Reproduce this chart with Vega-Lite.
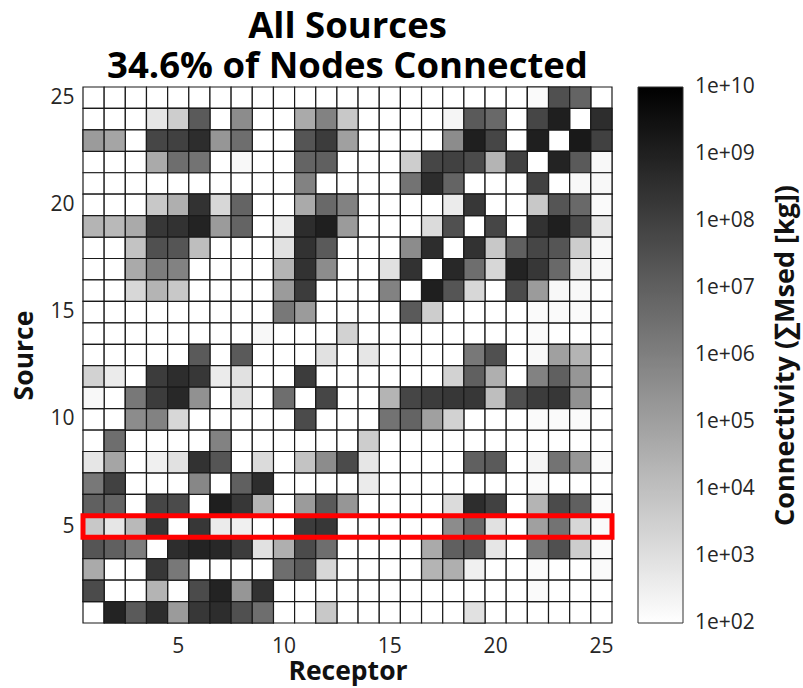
{
  "$schema": "https://vega.github.io/schema/vega-lite/v6.json",
  "width": 529,
  "height": 536,
  "autosize": {"type": "none"},
  "padding": {"left": 83, "top": 87, "right": 191, "bottom": 65},
  "background": "white",
  "title": {
    "text": ["All Sources", "34.6% of Nodes Connected"],
    "font": "Open Sans",
    "fontSize": 36.5,
    "fontWeight": "bold",
    "color": "black",
    "anchor": "middle",
    "offset": 1,
    "lineHeight": 40
  },
  "config": {
    "view": {"stroke": null},
    "axis": {
      "labelFont": "Open Sans",
      "labelFontSize": 21,
      "labelColor": "#262626",
      "titleFont": "Open Sans",
      "titleFontSize": 26.5,
      "titleFontWeight": "bold",
      "titleColor": "#111111",
      "ticks": false,
      "domain": false,
      "grid": false
    }
  },
  "data": {
    "values": [
      {"rec":1,"src":25,"kg":0},{"rec":2,"src":25,"kg":0},{"rec":3,"src":25,"kg":0},{"rec":4,"src":25,"kg":0},{"rec":5,"src":25,"kg":0},{"rec":6,"src":25,"kg":0},{"rec":7,"src":25,"kg":0},{"rec":8,"src":25,"kg":0},{"rec":9,"src":25,"kg":0},{"rec":10,"src":25,"kg":0},{"rec":11,"src":25,"kg":0},{"rec":12,"src":25,"kg":0},{"rec":13,"src":25,"kg":0},{"rec":14,"src":25,"kg":0},{"rec":15,"src":25,"kg":0},{"rec":16,"src":25,"kg":0},{"rec":17,"src":25,"kg":0},{"rec":18,"src":25,"kg":0},{"rec":19,"src":25,"kg":0},{"rec":20,"src":25,"kg":0},{"rec":21,"src":25,"kg":0},{"rec":22,"src":25,"kg":1.4e2},{"rec":23,"src":25,"kg":3.1e7},{"rec":24,"src":25,"kg":7.3e6},{"rec":25,"src":25,"kg":0},
      {"rec":1,"src":24,"kg":0},{"rec":2,"src":24,"kg":0},{"rec":3,"src":24,"kg":0},{"rec":4,"src":24,"kg":6.1e2},{"rec":5,"src":24,"kg":3.7e3},{"rec":6,"src":24,"kg":1.5e7},{"rec":7,"src":24,"kg":0},{"rec":8,"src":24,"kg":4.1e5},{"rec":9,"src":24,"kg":0},{"rec":10,"src":24,"kg":0},{"rec":11,"src":24,"kg":4.6e4},{"rec":12,"src":24,"kg":8.4e5},{"rec":13,"src":24,"kg":5.3e3},{"rec":14,"src":24,"kg":0},{"rec":15,"src":24,"kg":0},{"rec":16,"src":24,"kg":0},{"rec":17,"src":24,"kg":0},{"rec":18,"src":24,"kg":2.1e2},{"rec":19,"src":24,"kg":1.5e7},{"rec":20,"src":24,"kg":5.1e6},{"rec":21,"src":24,"kg":0},{"rec":22,"src":24,"kg":6.3e7},{"rec":23,"src":24,"kg":1.1e9},{"rec":24,"src":24,"kg":0},{"rec":25,"src":24,"kg":3.9e8},
      {"rec":1,"src":23,"kg":1.4e5},{"rec":2,"src":23,"kg":6.6e4},{"rec":3,"src":23,"kg":0},{"rec":4,"src":23,"kg":6.3e7},{"rec":5,"src":23,"kg":9e7},{"rec":6,"src":23,"kg":3.9e8},{"rec":7,"src":23,"kg":2e5},{"rec":8,"src":23,"kg":3.5e6},{"rec":9,"src":23,"kg":0},{"rec":10,"src":23,"kg":0},{"rec":11,"src":23,"kg":2.1e7},{"rec":12,"src":23,"kg":1.3e8},{"rec":13,"src":23,"kg":9.5e4},{"rec":14,"src":23,"kg":0},{"rec":15,"src":23,"kg":0},{"rec":16,"src":23,"kg":0},{"rec":17,"src":23,"kg":0},{"rec":18,"src":23,"kg":4.1e5},{"rec":19,"src":23,"kg":1.1e9},{"rec":20,"src":23,"kg":6.3e7},{"rec":21,"src":23,"kg":0},{"rec":22,"src":23,"kg":1.1e9},{"rec":23,"src":23,"kg":0},{"rec":24,"src":23,"kg":1.7e9},{"rec":25,"src":23,"kg":9e7},
      {"rec":1,"src":22,"kg":0},{"rec":2,"src":22,"kg":0},{"rec":3,"src":22,"kg":0},{"rec":4,"src":22,"kg":4.6e4},{"rec":5,"src":22,"kg":3.5e6},{"rec":6,"src":22,"kg":2.5e6},{"rec":7,"src":22,"kg":0},{"rec":8,"src":22,"kg":1.7e2},{"rec":9,"src":22,"kg":0},{"rec":10,"src":22,"kg":0},{"rec":11,"src":22,"kg":7.3e6},{"rec":12,"src":22,"kg":1e7},{"rec":13,"src":22,"kg":0},{"rec":14,"src":22,"kg":0},{"rec":15,"src":22,"kg":0},{"rec":16,"src":22,"kg":3.7e3},{"rec":17,"src":22,"kg":6.3e7},{"rec":18,"src":22,"kg":9e7},{"rec":19,"src":22,"kg":4.4e7},{"rec":20,"src":22,"kg":2.2e4},{"rec":21,"src":22,"kg":9e7},{"rec":22,"src":22,"kg":0},{"rec":23,"src":22,"kg":8e8},{"rec":24,"src":22,"kg":1.5e7},{"rec":25,"src":22,"kg":1.7e2},
      {"rec":1,"src":21,"kg":0},{"rec":2,"src":21,"kg":0},{"rec":3,"src":21,"kg":0},{"rec":4,"src":21,"kg":0},{"rec":5,"src":21,"kg":0},{"rec":6,"src":21,"kg":0},{"rec":7,"src":21,"kg":0},{"rec":8,"src":21,"kg":0},{"rec":9,"src":21,"kg":0},{"rec":10,"src":21,"kg":0},{"rec":11,"src":21,"kg":8.4e5},{"rec":12,"src":21,"kg":0},{"rec":13,"src":21,"kg":0},{"rec":14,"src":21,"kg":0},{"rec":15,"src":21,"kg":0},{"rec":16,"src":21,"kg":2.5e6},{"rec":17,"src":21,"kg":3.9e8},{"rec":18,"src":21,"kg":7.3e6},{"rec":19,"src":21,"kg":0},{"rec":20,"src":21,"kg":0},{"rec":21,"src":21,"kg":0},{"rec":22,"src":21,"kg":9e7},{"rec":23,"src":21,"kg":0},{"rec":24,"src":21,"kg":1.7e2},{"rec":25,"src":21,"kg":1.7e2},
      {"rec":1,"src":20,"kg":0},{"rec":2,"src":20,"kg":0},{"rec":3,"src":20,"kg":0},{"rec":4,"src":20,"kg":5.3e3},{"rec":5,"src":20,"kg":3.2e4},{"rec":6,"src":20,"kg":2.7e8},{"rec":7,"src":20,"kg":1.8e3},{"rec":8,"src":20,"kg":7.3e6},{"rec":9,"src":20,"kg":0},{"rec":10,"src":20,"kg":0},{"rec":11,"src":20,"kg":4.6e4},{"rec":12,"src":20,"kg":5.1e6},{"rec":13,"src":20,"kg":8.4e5},{"rec":14,"src":20,"kg":0},{"rec":15,"src":20,"kg":0},{"rec":16,"src":20,"kg":0},{"rec":17,"src":20,"kg":0},{"rec":18,"src":20,"kg":4.2e2},{"rec":19,"src":20,"kg":1.9e8},{"rec":20,"src":20,"kg":0},{"rec":21,"src":20,"kg":0},{"rec":22,"src":20,"kg":5.3e3},{"rec":23,"src":20,"kg":2.1e7},{"rec":24,"src":20,"kg":5.1e6},{"rec":25,"src":20,"kg":1.4e2},
      {"rec":1,"src":19,"kg":2.2e4},{"rec":2,"src":19,"kg":1.6e4},{"rec":3,"src":19,"kg":4.6e4},{"rec":4,"src":19,"kg":1.9e8},{"rec":5,"src":19,"kg":2.7e8},{"rec":6,"src":19,"kg":8e8},{"rec":7,"src":19,"kg":1.4e5},{"rec":8,"src":19,"kg":7.3e6},{"rec":9,"src":19,"kg":0},{"rec":10,"src":19,"kg":4.2e2},{"rec":11,"src":19,"kg":3.9e8},{"rec":12,"src":19,"kg":1.1e9},{"rec":13,"src":19,"kg":1.4e5},{"rec":14,"src":19,"kg":0},{"rec":15,"src":19,"kg":0},{"rec":16,"src":19,"kg":0},{"rec":17,"src":19,"kg":1.3e3},{"rec":18,"src":19,"kg":3.1e7},{"rec":19,"src":19,"kg":0},{"rec":20,"src":19,"kg":6.3e7},{"rec":21,"src":19,"kg":0},{"rec":22,"src":19,"kg":2.7e8},{"rec":23,"src":19,"kg":1.1e9},{"rec":24,"src":19,"kg":4.4e7},{"rec":25,"src":19,"kg":6.1e2},
      {"rec":1,"src":18,"kg":0},{"rec":2,"src":18,"kg":0},{"rec":3,"src":18,"kg":7.6e3},{"rec":4,"src":18,"kg":3.1e7},{"rec":5,"src":18,"kg":2.1e7},{"rec":6,"src":18,"kg":1.1e4},{"rec":7,"src":18,"kg":0},{"rec":8,"src":18,"kg":0},{"rec":9,"src":18,"kg":0},{"rec":10,"src":18,"kg":8.7e2},{"rec":11,"src":18,"kg":2.7e8},{"rec":12,"src":18,"kg":1.5e7},{"rec":13,"src":18,"kg":0},{"rec":14,"src":18,"kg":0},{"rec":15,"src":18,"kg":0},{"rec":16,"src":18,"kg":4.1e5},{"rec":17,"src":18,"kg":3.9e8},{"rec":18,"src":18,"kg":0},{"rec":19,"src":18,"kg":2.7e8},{"rec":20,"src":18,"kg":5.3e3},{"rec":21,"src":18,"kg":1e7},{"rec":22,"src":18,"kg":6.3e7},{"rec":23,"src":18,"kg":2.1e7},{"rec":24,"src":18,"kg":3.7e3},{"rec":25,"src":18,"kg":1.7e2},
      {"rec":1,"src":17,"kg":0},{"rec":2,"src":17,"kg":0},{"rec":3,"src":17,"kg":4.6e4},{"rec":4,"src":17,"kg":1.2e6},{"rec":5,"src":17,"kg":8.4e5},{"rec":6,"src":17,"kg":0},{"rec":7,"src":17,"kg":0},{"rec":8,"src":17,"kg":0},{"rec":9,"src":17,"kg":0},{"rec":10,"src":17,"kg":2.2e4},{"rec":11,"src":17,"kg":2.7e8},{"rec":12,"src":17,"kg":4.1e5},{"rec":13,"src":17,"kg":0},{"rec":14,"src":17,"kg":0},{"rec":15,"src":17,"kg":8.7e2},{"rec":16,"src":17,"kg":2.7e8},{"rec":17,"src":17,"kg":0},{"rec":18,"src":17,"kg":5.6e8},{"rec":19,"src":17,"kg":3.5e6},{"rec":20,"src":17,"kg":1.8e3},{"rec":21,"src":17,"kg":8e8},{"rec":22,"src":17,"kg":1.9e8},{"rec":23,"src":17,"kg":5.1e6},{"rec":24,"src":17,"kg":4.2e2},{"rec":25,"src":17,"kg":1.7e2},
      {"rec":1,"src":16,"kg":0},{"rec":2,"src":16,"kg":0},{"rec":3,"src":16,"kg":1.8e3},{"rec":4,"src":16,"kg":2.2e4},{"rec":5,"src":16,"kg":5.3e3},{"rec":6,"src":16,"kg":0},{"rec":7,"src":16,"kg":0},{"rec":8,"src":16,"kg":0},{"rec":9,"src":16,"kg":0},{"rec":10,"src":16,"kg":1.4e5},{"rec":11,"src":16,"kg":1.3e8},{"rec":12,"src":16,"kg":0},{"rec":13,"src":16,"kg":0},{"rec":14,"src":16,"kg":0},{"rec":15,"src":16,"kg":8.4e5},{"rec":16,"src":16,"kg":0},{"rec":17,"src":16,"kg":1.1e9},{"rec":18,"src":16,"kg":2.1e7},{"rec":19,"src":16,"kg":1.8e3},{"rec":20,"src":16,"kg":0},{"rec":21,"src":16,"kg":4.4e7},{"rec":22,"src":16,"kg":1.4e5},{"rec":23,"src":16,"kg":1.7e2},{"rec":24,"src":16,"kg":1.7e2},{"rec":25,"src":16,"kg":0},
      {"rec":1,"src":15,"kg":0},{"rec":2,"src":15,"kg":0},{"rec":3,"src":15,"kg":0},{"rec":4,"src":15,"kg":0},{"rec":5,"src":15,"kg":0},{"rec":6,"src":15,"kg":0},{"rec":7,"src":15,"kg":0},{"rec":8,"src":15,"kg":0},{"rec":9,"src":15,"kg":0},{"rec":10,"src":15,"kg":1.7e6},{"rec":11,"src":15,"kg":1.4e5},{"rec":12,"src":15,"kg":0},{"rec":13,"src":15,"kg":0},{"rec":14,"src":15,"kg":0},{"rec":15,"src":15,"kg":0},{"rec":16,"src":15,"kg":1.5e7},{"rec":17,"src":15,"kg":3.7e3},{"rec":18,"src":15,"kg":0},{"rec":19,"src":15,"kg":0},{"rec":20,"src":15,"kg":0},{"rec":21,"src":15,"kg":0},{"rec":22,"src":15,"kg":1.4e2},{"rec":23,"src":15,"kg":1.4e2},{"rec":24,"src":15,"kg":1.4e2},{"rec":25,"src":15,"kg":0},
      {"rec":1,"src":14,"kg":0},{"rec":2,"src":14,"kg":0},{"rec":3,"src":14,"kg":0},{"rec":4,"src":14,"kg":0},{"rec":5,"src":14,"kg":0},{"rec":6,"src":14,"kg":0},{"rec":7,"src":14,"kg":0},{"rec":8,"src":14,"kg":0},{"rec":9,"src":14,"kg":1.7e2},{"rec":10,"src":14,"kg":0},{"rec":11,"src":14,"kg":0},{"rec":12,"src":14,"kg":0},{"rec":13,"src":14,"kg":2.6e3},{"rec":14,"src":14,"kg":0},{"rec":15,"src":14,"kg":0},{"rec":16,"src":14,"kg":0},{"rec":17,"src":14,"kg":0},{"rec":18,"src":14,"kg":0},{"rec":19,"src":14,"kg":0},{"rec":20,"src":14,"kg":0},{"rec":21,"src":14,"kg":0},{"rec":22,"src":14,"kg":1.4e2},{"rec":23,"src":14,"kg":0},{"rec":24,"src":14,"kg":0},{"rec":25,"src":14,"kg":0},
      {"rec":1,"src":13,"kg":0},{"rec":2,"src":13,"kg":0},{"rec":3,"src":13,"kg":0},{"rec":4,"src":13,"kg":0},{"rec":5,"src":13,"kg":0},{"rec":6,"src":13,"kg":1.5e7},{"rec":7,"src":13,"kg":0},{"rec":8,"src":13,"kg":1.5e7},{"rec":9,"src":13,"kg":0},{"rec":10,"src":13,"kg":0},{"rec":11,"src":13,"kg":0},{"rec":12,"src":13,"kg":8.7e2},{"rec":13,"src":13,"kg":0},{"rec":14,"src":13,"kg":6.1e2},{"rec":15,"src":13,"kg":0},{"rec":16,"src":13,"kg":0},{"rec":17,"src":13,"kg":0},{"rec":18,"src":13,"kg":0},{"rec":19,"src":13,"kg":1.7e6},{"rec":20,"src":13,"kg":3.1e7},{"rec":21,"src":13,"kg":0},{"rec":22,"src":13,"kg":1.7e2},{"rec":23,"src":13,"kg":9.5e4},{"rec":24,"src":13,"kg":2.2e4},{"rec":25,"src":13,"kg":0},
      {"rec":1,"src":12,"kg":2.6e3},{"rec":2,"src":12,"kg":4.2e2},{"rec":3,"src":12,"kg":0},{"rec":4,"src":12,"kg":1.3e8},{"rec":5,"src":12,"kg":3.9e8},{"rec":6,"src":12,"kg":1.9e8},{"rec":7,"src":12,"kg":4.2e2},{"rec":8,"src":12,"kg":8.7e2},{"rec":9,"src":12,"kg":0},{"rec":10,"src":12,"kg":0},{"rec":11,"src":12,"kg":1.3e8},{"rec":12,"src":12,"kg":0},{"rec":13,"src":12,"kg":0},{"rec":14,"src":12,"kg":0},{"rec":15,"src":12,"kg":0},{"rec":16,"src":12,"kg":0},{"rec":17,"src":12,"kg":0},{"rec":18,"src":12,"kg":2.6e3},{"rec":19,"src":12,"kg":1e7},{"rec":20,"src":12,"kg":3.2e4},{"rec":21,"src":12,"kg":0},{"rec":22,"src":12,"kg":8.4e5},{"rec":23,"src":12,"kg":1e7},{"rec":24,"src":12,"kg":2e5},{"rec":25,"src":12,"kg":0},
      {"rec":1,"src":11,"kg":1.7e2},{"rec":2,"src":11,"kg":0},{"rec":3,"src":11,"kg":1.7e6},{"rec":4,"src":11,"kg":1.3e8},{"rec":5,"src":11,"kg":5.6e8},{"rec":6,"src":11,"kg":2.8e5},{"rec":7,"src":11,"kg":0},{"rec":8,"src":11,"kg":8.7e2},{"rec":9,"src":11,"kg":0},{"rec":10,"src":11,"kg":3.5e6},{"rec":11,"src":11,"kg":0},{"rec":12,"src":11,"kg":6.3e7},{"rec":13,"src":11,"kg":0},{"rec":14,"src":11,"kg":0},{"rec":15,"src":11,"kg":2.2e4},{"rec":16,"src":11,"kg":6.3e7},{"rec":17,"src":11,"kg":1.3e8},{"rec":18,"src":11,"kg":1.9e8},{"rec":19,"src":11,"kg":1.9e8},{"rec":20,"src":11,"kg":1.1e4},{"rec":21,"src":11,"kg":3.1e7},{"rec":22,"src":11,"kg":1.3e8},{"rec":23,"src":11,"kg":1.9e8},{"rec":24,"src":11,"kg":2.8e5},{"rec":25,"src":11,"kg":0},
      {"rec":1,"src":10,"kg":0},{"rec":2,"src":10,"kg":0},{"rec":3,"src":10,"kg":4.1e5},{"rec":4,"src":10,"kg":8.4e5},{"rec":5,"src":10,"kg":1.8e3},{"rec":6,"src":10,"kg":0},{"rec":7,"src":10,"kg":0},{"rec":8,"src":10,"kg":0},{"rec":9,"src":10,"kg":0},{"rec":10,"src":10,"kg":0},{"rec":11,"src":10,"kg":4.4e7},{"rec":12,"src":10,"kg":0},{"rec":13,"src":10,"kg":0},{"rec":14,"src":10,"kg":0},{"rec":15,"src":10,"kg":2.5e6},{"rec":16,"src":10,"kg":7.3e6},{"rec":17,"src":10,"kg":9.5e4},{"rec":18,"src":10,"kg":2.6e3},{"rec":19,"src":10,"kg":0},{"rec":20,"src":10,"kg":0},{"rec":21,"src":10,"kg":0},{"rec":22,"src":10,"kg":1.4e2},{"rec":23,"src":10,"kg":1.4e2},{"rec":24,"src":10,"kg":1.4e2},{"rec":25,"src":10,"kg":0},
      {"rec":1,"src":9,"kg":0},{"rec":2,"src":9,"kg":3.5e6},{"rec":3,"src":9,"kg":0},{"rec":4,"src":9,"kg":0},{"rec":5,"src":9,"kg":0},{"rec":6,"src":9,"kg":0},{"rec":7,"src":9,"kg":8.4e5},{"rec":8,"src":9,"kg":0},{"rec":9,"src":9,"kg":0},{"rec":10,"src":9,"kg":0},{"rec":11,"src":9,"kg":0},{"rec":12,"src":9,"kg":0},{"rec":13,"src":9,"kg":0},{"rec":14,"src":9,"kg":3.7e3},{"rec":15,"src":9,"kg":0},{"rec":16,"src":9,"kg":0},{"rec":17,"src":9,"kg":0},{"rec":18,"src":9,"kg":0},{"rec":19,"src":9,"kg":0},{"rec":20,"src":9,"kg":0},{"rec":21,"src":9,"kg":0},{"rec":22,"src":9,"kg":0},{"rec":23,"src":9,"kg":0},{"rec":24,"src":9,"kg":0},{"rec":25,"src":9,"kg":0},
      {"rec":1,"src":8,"kg":6.1e2},{"rec":2,"src":8,"kg":6.6e4},{"rec":3,"src":8,"kg":0},{"rec":4,"src":8,"kg":3e2},{"rec":5,"src":8,"kg":8.7e2},{"rec":6,"src":8,"kg":2.7e8},{"rec":7,"src":8,"kg":2.1e7},{"rec":8,"src":8,"kg":0},{"rec":9,"src":8,"kg":1.3e3},{"rec":10,"src":8,"kg":0},{"rec":11,"src":8,"kg":7.6e3},{"rec":12,"src":8,"kg":4.1e5},{"rec":13,"src":8,"kg":4.4e7},{"rec":14,"src":8,"kg":6.1e2},{"rec":15,"src":8,"kg":0},{"rec":16,"src":8,"kg":0},{"rec":17,"src":8,"kg":0},{"rec":18,"src":8,"kg":0},{"rec":19,"src":8,"kg":1e7},{"rec":20,"src":8,"kg":1.5e7},{"rec":21,"src":8,"kg":0},{"rec":22,"src":8,"kg":2.1e2},{"rec":23,"src":8,"kg":2.5e6},{"rec":24,"src":8,"kg":2e5},{"rec":25,"src":8,"kg":1.4e2},
      {"rec":1,"src":7,"kg":1.7e6},{"rec":2,"src":7,"kg":9e7},{"rec":3,"src":7,"kg":0},{"rec":4,"src":7,"kg":0},{"rec":5,"src":7,"kg":0},{"rec":6,"src":7,"kg":5.8e5},{"rec":7,"src":7,"kg":0},{"rec":8,"src":7,"kg":1e7},{"rec":9,"src":7,"kg":3.9e8},{"rec":10,"src":7,"kg":0},{"rec":11,"src":7,"kg":0},{"rec":12,"src":7,"kg":0},{"rec":13,"src":7,"kg":0},{"rec":14,"src":7,"kg":4.2e2},{"rec":15,"src":7,"kg":0},{"rec":16,"src":7,"kg":0},{"rec":17,"src":7,"kg":0},{"rec":18,"src":7,"kg":0},{"rec":19,"src":7,"kg":0},{"rec":20,"src":7,"kg":0},{"rec":21,"src":7,"kg":0},{"rec":22,"src":7,"kg":1.4e2},{"rec":23,"src":7,"kg":0},{"rec":24,"src":7,"kg":0},{"rec":25,"src":7,"kg":0},
      {"rec":1,"src":6,"kg":1e7},{"rec":2,"src":6,"kg":7.3e6},{"rec":3,"src":6,"kg":0},{"rec":4,"src":6,"kg":6.3e7},{"rec":5,"src":6,"kg":4.4e7},{"rec":6,"src":6,"kg":0},{"rec":7,"src":6,"kg":1.1e9},{"rec":8,"src":6,"kg":1.9e8},{"rec":9,"src":6,"kg":2.2e4},{"rec":10,"src":6,"kg":0},{"rec":11,"src":6,"kg":1.4e5},{"rec":12,"src":6,"kg":1.5e7},{"rec":13,"src":6,"kg":2e5},{"rec":14,"src":6,"kg":0},{"rec":15,"src":6,"kg":0},{"rec":16,"src":6,"kg":0},{"rec":17,"src":6,"kg":0},{"rec":18,"src":6,"kg":1.3e3},{"rec":19,"src":6,"kg":3.9e8},{"rec":20,"src":6,"kg":9e7},{"rec":21,"src":6,"kg":0},{"rec":22,"src":6,"kg":2.2e4},{"rec":23,"src":6,"kg":4.4e7},{"rec":24,"src":6,"kg":1e7},{"rec":25,"src":6,"kg":1.4e2},
      {"rec":1,"src":5,"kg":5.3e3},{"rec":2,"src":5,"kg":6.1e2},{"rec":3,"src":5,"kg":1.6e4},{"rec":4,"src":5,"kg":1.9e8},{"rec":5,"src":5,"kg":0},{"rec":6,"src":5,"kg":1.9e8},{"rec":7,"src":5,"kg":4.2e2},{"rec":8,"src":5,"kg":3e2},{"rec":9,"src":5,"kg":0},{"rec":10,"src":5,"kg":0},{"rec":11,"src":5,"kg":1.3e8},{"rec":12,"src":5,"kg":1.9e8},{"rec":13,"src":5,"kg":0},{"rec":14,"src":5,"kg":0},{"rec":15,"src":5,"kg":0},{"rec":16,"src":5,"kg":0},{"rec":17,"src":5,"kg":0},{"rec":18,"src":5,"kg":4.1e5},{"rec":19,"src":5,"kg":5.1e6},{"rec":20,"src":5,"kg":8.7e2},{"rec":21,"src":5,"kg":0},{"rec":22,"src":5,"kg":9.5e4},{"rec":23,"src":5,"kg":2.5e6},{"rec":24,"src":5,"kg":1.8e3},{"rec":25,"src":5,"kg":1.4e2},
      {"rec":1,"src":4,"kg":2.1e7},{"rec":2,"src":4,"kg":1e7},{"rec":3,"src":4,"kg":1.2e6},{"rec":4,"src":4,"kg":0},{"rec":5,"src":4,"kg":3.9e8},{"rec":6,"src":4,"kg":8e8},{"rec":7,"src":4,"kg":5.6e8},{"rec":8,"src":4,"kg":1.3e8},{"rec":9,"src":4,"kg":8.7e2},{"rec":10,"src":4,"kg":3.2e4},{"rec":11,"src":4,"kg":4.4e7},{"rec":12,"src":4,"kg":3.5e6},{"rec":13,"src":4,"kg":0},{"rec":14,"src":4,"kg":0},{"rec":15,"src":4,"kg":0},{"rec":16,"src":4,"kg":0},{"rec":17,"src":4,"kg":4.6e4},{"rec":18,"src":4,"kg":1e7},{"rec":19,"src":4,"kg":1.5e7},{"rec":20,"src":4,"kg":6.1e2},{"rec":21,"src":4,"kg":0},{"rec":22,"src":4,"kg":1.7e6},{"rec":23,"src":4,"kg":3.1e7},{"rec":24,"src":4,"kg":3.7e3},{"rec":25,"src":4,"kg":1.4e2},
      {"rec":1,"src":3,"kg":4.6e4},{"rec":2,"src":3,"kg":0},{"rec":3,"src":3,"kg":0},{"rec":4,"src":3,"kg":1.9e8},{"rec":5,"src":3,"kg":1.7e6},{"rec":6,"src":3,"kg":0},{"rec":7,"src":3,"kg":0},{"rec":8,"src":3,"kg":0},{"rec":9,"src":3,"kg":0},{"rec":10,"src":3,"kg":3.5e6},{"rec":11,"src":3,"kg":1.5e7},{"rec":12,"src":3,"kg":1.8e3},{"rec":13,"src":3,"kg":0},{"rec":14,"src":3,"kg":0},{"rec":15,"src":3,"kg":0},{"rec":16,"src":3,"kg":0},{"rec":17,"src":3,"kg":2.2e4},{"rec":18,"src":3,"kg":3.2e4},{"rec":19,"src":3,"kg":3e2},{"rec":20,"src":3,"kg":0},{"rec":21,"src":3,"kg":0},{"rec":22,"src":3,"kg":1.4e2},{"rec":23,"src":3,"kg":0},{"rec":24,"src":3,"kg":0},{"rec":25,"src":3,"kg":1.4e2},
      {"rec":1,"src":2,"kg":4.4e7},{"rec":2,"src":2,"kg":0},{"rec":3,"src":2,"kg":0},{"rec":4,"src":2,"kg":2.2e4},{"rec":5,"src":2,"kg":0},{"rec":6,"src":2,"kg":4.4e7},{"rec":7,"src":2,"kg":8e8},{"rec":8,"src":2,"kg":2e5},{"rec":9,"src":2,"kg":2.7e8},{"rec":10,"src":2,"kg":0},{"rec":11,"src":2,"kg":0},{"rec":12,"src":2,"kg":0},{"rec":13,"src":2,"kg":0},{"rec":14,"src":2,"kg":0},{"rec":15,"src":2,"kg":0},{"rec":16,"src":2,"kg":0},{"rec":17,"src":2,"kg":0},{"rec":18,"src":2,"kg":0},{"rec":19,"src":2,"kg":0},{"rec":20,"src":2,"kg":0},{"rec":21,"src":2,"kg":0},{"rec":22,"src":2,"kg":1.4e2},{"rec":23,"src":2,"kg":0},{"rec":24,"src":2,"kg":0},{"rec":25,"src":2,"kg":0},
      {"rec":1,"src":1,"kg":0},{"rec":2,"src":1,"kg":8e8},{"rec":3,"src":1,"kg":1.5e7},{"rec":4,"src":1,"kg":3.9e8},{"rec":5,"src":1,"kg":1.4e5},{"rec":6,"src":1,"kg":1.9e8},{"rec":7,"src":1,"kg":3.9e8},{"rec":8,"src":1,"kg":3.1e7},{"rec":9,"src":1,"kg":3.5e6},{"rec":10,"src":1,"kg":0},{"rec":11,"src":1,"kg":0},{"rec":12,"src":1,"kg":5.3e3},{"rec":13,"src":1,"kg":0},{"rec":14,"src":1,"kg":0},{"rec":15,"src":1,"kg":0},{"rec":16,"src":1,"kg":0},{"rec":17,"src":1,"kg":0},{"rec":18,"src":1,"kg":0},{"rec":19,"src":1,"kg":8.7e2},{"rec":20,"src":1,"kg":0},{"rec":21,"src":1,"kg":0},{"rec":22,"src":1,"kg":0},{"rec":23,"src":1,"kg":0},{"rec":24,"src":1,"kg":0},{"rec":25,"src":1,"kg":0}
    ]
  },
  "layer": [
    {
      "mark": {"type": "rect", "fill": "white", "stroke": "#1a1a1a", "strokeWidth": 1.2},
      "encoding": {
        "x": {
          "field": "rec", "type": "ordinal",
          "scale": {"domain": [1,2,3,4,5,6,7,8,9,10,11,12,13,14,15,16,17,18,19,20,21,22,23,24,25], "paddingInner": 0, "paddingOuter": 0},
          "axis": {"values": [5,10,15,20,25], "labelAngle": 0, "labelPadding": 12, "title": "Receptor", "titlePadding": 2}
        },
        "y": {
          "field": "src", "type": "ordinal",
          "scale": {"domain": [25,24,23,22,21,20,19,18,17,16,15,14,13,12,11,10,9,8,7,6,5,4,3,2,1], "paddingInner": 0, "paddingOuter": 0},
          "axis": {"values": [5,10,15,20,25], "labelPadding": 9, "title": "Source", "titlePadding": 11}
        }
      }
    },
    {
      "transform": [{"filter": "datum.kg > 0"}],
      "mark": {"type": "rect", "stroke": "#1a1a1a", "strokeWidth": 1.2},
      "encoding": {
        "x": {"field": "rec", "type": "ordinal"},
        "y": {"field": "src", "type": "ordinal", "axis": null},
        "color": {
          "field": "kg", "type": "quantitative",
          "scale": {"type": "log", "domain": [99.5, 10050000000], "range": ["#ffffff", "#000000"], "interpolate": "rgb", "clamp": true, "nice": false},
          "legend": {
            "orient": "none", "legendX": 555, "legendY": 0, "padding": 0,
            "direction": "vertical", "title": null,
            "gradientLength": 536, "gradientThickness": 45,
            "gradientStrokeColor": "#333333", "gradientStrokeWidth": 1,
            "values": [100, 1000, 10000, 100000, 1000000, 10000000, 100000000, 1000000000, 10000000000],
            "labelExpr": "'1e+' + (datum.value < 1e10 ? '0' : '') + round(log(datum.value) / LN10)",
            "labelFont": "Open Sans", "labelFontSize": 21, "labelColor": "#262626",
            "labelOffset": 12, "labelBaseline": "middle", "labelOverlap": false
          }
        }
      }
    },
    {
      "data": {"values": [{"src": 5}]},
      "mark": {"type": "rect", "fillOpacity": 0, "stroke": "#ff0000", "strokeWidth": 5},
      "encoding": {
        "y": {
          "field": "src", "type": "ordinal",
          "axis": {"orient": "right", "labels": false, "ticks": false, "domain": false, "title": "Connectivity (∑Msed [kg])", "titleFontSize": 27, "titleAngle": 270, "titleBaseline": "top", "titlePadding": 160, "minExtent": 0, "maxExtent": 0, "offset": 0}
        }
      }
    }
  ],
  "resolve": {"axis": {"y": "independent"}}
}
